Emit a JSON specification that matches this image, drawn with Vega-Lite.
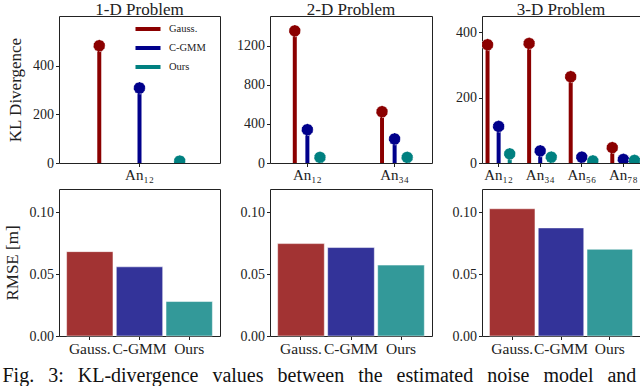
{
  "$schema": "https://vega.github.io/schema/vega-lite/v6.json",
  "padding": {"left": 2, "top": 0, "right": 0, "bottom": 0},
  "background": "white",
  "datasets": {
    "kl": [
      {"problem": "1-D", "pair": "An₁₂", "method": "Gauss.", "value": 482},
      {"problem": "1-D", "pair": "An₁₂", "method": "C-GMM", "value": 308},
      {"problem": "1-D", "pair": "An₁₂", "method": "Ours", "value": 8},
      {"problem": "2-D", "pair": "An₁₂", "method": "Gauss.", "value": 1353},
      {"problem": "2-D", "pair": "An₁₂", "method": "C-GMM", "value": 341},
      {"problem": "2-D", "pair": "An₁₂", "method": "Ours", "value": 58},
      {"problem": "2-D", "pair": "An₃₄", "method": "Gauss.", "value": 525},
      {"problem": "2-D", "pair": "An₃₄", "method": "C-GMM", "value": 246},
      {"problem": "2-D", "pair": "An₃₄", "method": "Ours", "value": 58},
      {"problem": "3-D", "pair": "An₁₂", "method": "Gauss.", "value": 362},
      {"problem": "3-D", "pair": "An₁₂", "method": "C-GMM", "value": 112},
      {"problem": "3-D", "pair": "An₁₂", "method": "Ours", "value": 28},
      {"problem": "3-D", "pair": "An₃₄", "method": "Gauss.", "value": 366},
      {"problem": "3-D", "pair": "An₃₄", "method": "C-GMM", "value": 37},
      {"problem": "3-D", "pair": "An₃₄", "method": "Ours", "value": 18},
      {"problem": "3-D", "pair": "An₅₆", "method": "Gauss.", "value": 264},
      {"problem": "3-D", "pair": "An₅₆", "method": "C-GMM", "value": 18},
      {"problem": "3-D", "pair": "An₅₆", "method": "Ours", "value": 6},
      {"problem": "3-D", "pair": "An₇₈", "method": "Gauss.", "value": 47},
      {"problem": "3-D", "pair": "An₇₈", "method": "C-GMM", "value": 11},
      {"problem": "3-D", "pair": "An₇₈", "method": "Ours", "value": 8}
    ],
    "rmse": [
      {"problem": "1-D", "method": "Gauss.", "value": 0.0683},
      {"problem": "1-D", "method": "C-GMM", "value": 0.056},
      {"problem": "1-D", "method": "Ours", "value": 0.0279},
      {"problem": "2-D", "method": "Gauss.", "value": 0.0748},
      {"problem": "2-D", "method": "C-GMM", "value": 0.0716},
      {"problem": "2-D", "method": "Ours", "value": 0.0574},
      {"problem": "3-D", "method": "Gauss.", "value": 0.103},
      {"problem": "3-D", "method": "C-GMM", "value": 0.0875},
      {"problem": "3-D", "method": "Ours", "value": 0.0702}
    ]
  },
  "title": {
    "text": "Fig.\u00a0\u00a0\u20093:\u00a0\u00a0\u2009KL-divergence\u00a0\u00a0\u2009values\u00a0\u00a0\u2009between\u00a0\u00a0\u2009the\u00a0\u00a0\u2009estimated\u00a0\u00a0\u2009noise\u00a0\u00a0\u2009model\u00a0\u00a0\u2009and",
    "orient": "bottom",
    "anchor": "start",
    "frame": "bounds",
    "fontSize": 20,
    "fontWeight": "normal",
    "font": "Liberation Serif",
    "color": "#111",
    "offset": 8
  },
  "columns": 3,
  "align": "each",
  "spacing": {"row": 5, "column": 14},
  "resolve": {"scale": {"color": "independent", "x": "independent", "y": "independent", "xOffset": "independent"}, "legend": {"color": "independent"}},
  "concat": [
    {
      "width": 161, "height": 147,
      "title": {"text": "1-D Problem"},
      "data": {"name": "kl"},
      "transform": [{"filter": "datum.problem === '1-D'"}],
      "encoding": {
        "x": {"field": "pair", "type": "nominal", "scale": {"paddingInner": 0, "paddingOuter": 0.167}, "axis": {"title": null, "labelAngle": 0, "labelFontSize": 15, "labelPadding": 0.5}},
        "xOffset": {"field": "method", "type": "nominal", "scale": {"domain": ["Gauss.", "C-GMM", "Ours"]}},
        "y": {"field": "value", "type": "quantitative", "scale": {"domain": [0, 604], "nice": false}, "axis": {"title": "KL Divergence", "values": [0, 200, 400], "format": "d"}},
        "color": {"field": "method", "type": "nominal", "scale": {"domain": ["Gauss.", "C-GMM", "Ours"], "range": ["#8B0000", "#00008B", "#008080"]},
          "legend": {"orient": "none", "legendX": 78, "legendY": 2, "title": null, "symbolType": "M-1.39,0H1.39", "symbolSize": 324, "symbolStrokeWidth": 4, "labelFontSize": 10.5, "labelColor": "#222", "rowPadding": 0, "padding": 0, "labelOffset": 10}}
      },
      "layer": [
        {"mark": {"type": "rule", "strokeWidth": 4, "clip": true}, "encoding": {"y2": {"datum": 0}}},
        {"mark": {"type": "point", "filled": true, "size": 140, "opacity": 1, "stroke": "white", "strokeWidth": 1, "strokeOpacity": 0.6, "strokeDash": [2, 1.5], "clip": true}}
      ]
    },
    {
      "width": 162, "height": 147,
      "title": {"text": "2-D Problem"},
      "data": {"name": "kl"},
      "transform": [{"filter": "datum.problem === '2-D'"}],
      "encoding": {
        "x": {"field": "pair", "type": "nominal", "scale": {"paddingInner": 0.567, "paddingOuter": 0.212}, "axis": {"title": null, "labelAngle": 0, "labelFontSize": 15, "labelPadding": 0.5}},
        "xOffset": {"field": "method", "type": "nominal", "scale": {"domain": ["Gauss.", "C-GMM", "Ours"]}},
        "y": {"field": "value", "type": "quantitative", "scale": {"domain": [0, 1505], "nice": false}, "axis": {"title": null, "values": [0, 400, 800, 1200], "format": "d", "minExtent": 34, "maxExtent": 34}},
        "color": {"field": "method", "type": "nominal", "scale": {"domain": ["Gauss.", "C-GMM", "Ours"], "range": ["#8B0000", "#00008B", "#008080"]}, "legend": null}
      },
      "layer": [
        {"mark": {"type": "rule", "strokeWidth": 4, "clip": true}, "encoding": {"y2": {"datum": 0}}},
        {"mark": {"type": "point", "filled": true, "size": 140, "opacity": 1, "stroke": "white", "strokeWidth": 1, "strokeOpacity": 0.6, "strokeDash": [2, 1.5], "clip": true}}
      ]
    },
    {
      "width": 158, "height": 147,
      "title": {"text": "3-D Problem"},
      "data": {"name": "kl"},
      "transform": [{"filter": "datum.problem === '3-D'"}],
      "encoding": {
        "x": {"field": "pair", "type": "nominal", "scale": {"paddingInner": 0.2, "paddingOuter": 0}, "axis": {"title": null, "labelAngle": 0, "labelFontSize": 15, "labelPadding": 0.5}},
        "xOffset": {"field": "method", "type": "nominal", "scale": {"domain": ["Gauss.", "C-GMM", "Ours"]}},
        "y": {"field": "value", "type": "quantitative", "scale": {"domain": [0, 450], "nice": false}, "axis": {"title": null, "values": [0, 200, 400], "format": "d", "minExtent": 34, "maxExtent": 34}},
        "color": {"field": "method", "type": "nominal", "scale": {"domain": ["Gauss.", "C-GMM", "Ours"], "range": ["#8B0000", "#00008B", "#008080"]}, "legend": null}
      },
      "layer": [
        {"mark": {"type": "rule", "strokeWidth": 4, "clip": true}, "encoding": {"y2": {"datum": 0}}},
        {"mark": {"type": "point", "filled": true, "size": 140, "opacity": 1, "stroke": "white", "strokeWidth": 1, "strokeOpacity": 0.6, "strokeDash": [2, 1.5], "clip": true}}
      ]
    },
    {
      "width": 161, "height": 147,
      "data": {"name": "rmse"},
      "transform": [{"filter": "datum.problem === '1-D'"}],
      "mark": {"type": "bar", "stroke": "white", "strokeWidth": 1, "strokeOpacity": 0.5},
      "encoding": {
        "x": {"field": "method", "type": "nominal", "sort": ["Gauss.", "C-GMM", "Ours"], "scale": {"paddingInner": 0.067, "paddingOuter": 0.153}, "axis": {"title": null, "labelAngle": 0, "labelFontSize": 15.5, "labelOverlap": false}},
        "y": {"field": "value", "type": "quantitative", "scale": {"domain": [0, 0.119], "nice": false}, "axis": {"title": "RMSE [m]", "values": [0, 0.05, 0.1], "format": ".2f"}},
        "color": {"field": "method", "type": "nominal", "scale": {"domain": ["Gauss.", "C-GMM", "Ours"], "range": ["#A23333", "#333399", "#339999"]}, "legend": null}
      }
    },
    {
      "width": 162, "height": 147,
      "data": {"name": "rmse"},
      "transform": [{"filter": "datum.problem === '2-D'"}],
      "mark": {"type": "bar", "stroke": "white", "strokeWidth": 1, "strokeOpacity": 0.5},
      "encoding": {
        "x": {"field": "method", "type": "nominal", "sort": ["Gauss.", "C-GMM", "Ours"], "scale": {"paddingInner": 0.067, "paddingOuter": 0.153}, "axis": {"title": null, "labelAngle": 0, "labelFontSize": 15.5, "labelOverlap": false}},
        "y": {"field": "value", "type": "quantitative", "scale": {"domain": [0, 0.119], "nice": false}, "axis": {"title": null, "values": [0, 0.05, 0.1], "format": ".2f", "minExtent": 34, "maxExtent": 34}},
        "color": {"field": "method", "type": "nominal", "scale": {"domain": ["Gauss.", "C-GMM", "Ours"], "range": ["#A23333", "#333399", "#339999"]}, "legend": null}
      }
    },
    {
      "width": 158, "height": 147,
      "data": {"name": "rmse"},
      "transform": [{"filter": "datum.problem === '3-D'"}],
      "mark": {"type": "bar", "stroke": "white", "strokeWidth": 1, "strokeOpacity": 0.5},
      "encoding": {
        "x": {"field": "method", "type": "nominal", "sort": ["Gauss.", "C-GMM", "Ours"], "scale": {"paddingInner": 0.067, "paddingOuter": 0.153}, "axis": {"title": null, "labelAngle": 0, "labelFontSize": 15.5, "labelOverlap": false}},
        "y": {"field": "value", "type": "quantitative", "scale": {"domain": [0, 0.119], "nice": false}, "axis": {"title": null, "values": [0, 0.05, 0.1], "format": ".2f", "minExtent": 34, "maxExtent": 34}},
        "color": {"field": "method", "type": "nominal", "scale": {"domain": ["Gauss.", "C-GMM", "Ours"], "range": ["#A23333", "#333399", "#339999"]}, "legend": null}
      }
    }
  ],
  "config": {
    "font": "Liberation Serif",
    "view": {"stroke": "#222", "strokeWidth": 1},
    "axis": {"grid": false, "domain": false, "tickColor": "#222", "tickSize": 3.5, "labelColor": "#222", "labelFontSize": 14, "labelPadding": 2, "titleFontSize": 17, "titleFontWeight": "normal", "titleColor": "#222", "titlePadding": 8},
    "title": {"fontSize": 17, "fontWeight": "normal", "offset": -2.5, "color": "#222"}
  }
}
